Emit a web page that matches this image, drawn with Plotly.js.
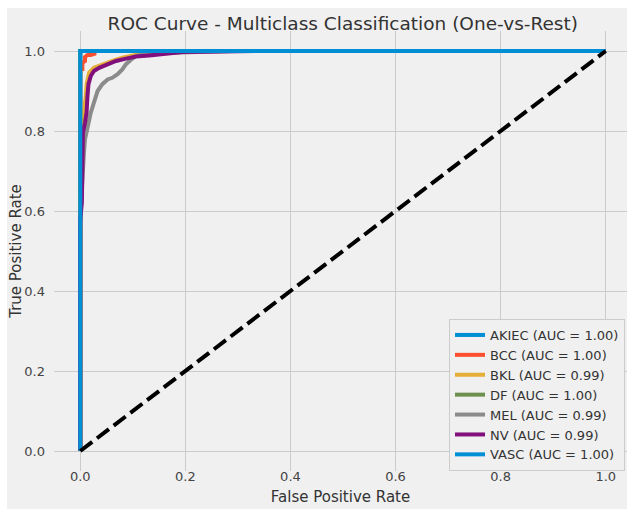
<!DOCTYPE html>
<html><head><meta charset="utf-8">
<script src="https://cdn.plot.ly/plotly-3.0.1.min.js"></script>
<style>
html,body{margin:0;padding:0;background:#ffffff;width:627px;height:509px;overflow:hidden}
#chart{position:absolute;left:7px;top:8px;width:620px;height:501px;background:#f0f0f0}
</style>
</head><body><div id="chart"></div>
<script>
// ---- Data ----
const classNames = ["AKIEC", "BCC", "BKL", "DF", "MEL", "NV", "VASC"];
const aucValues = [1.00, 1.00, 0.99, 1.00, 0.99, 0.99, 1.00];

const fprAKIEC = [0, 0, 1];
const tprAKIEC = [0, 1, 1];

const fprBCC = [0, 0, 0.004, 0.004, 0.009, 0.009, 0.014, 0.02, 0.027, 0.027, 1];
const tprBCC = [0, 0.955, 0.955, 0.97, 0.975, 0.985, 0.99, 0.99, 0.993, 1, 1];

const fprBKL = [0, 0, 0.003, 0.007, 0.0105, 0.0124, 0.017, 0.026, 0.042, 0.061, 0.08, 0.099, 0.118, 0.137, 0.16, 1];
const tprBKL = [0, 0.62, 0.80, 0.8375, 0.8875, 0.92, 0.946, 0.958, 0.967, 0.975, 0.983, 0.989, 0.994, 0.996, 1, 1];

const fprDF = [0, 0, 1];
const tprDF = [0, 1, 1];

const fprMEL = [0, 0, 0.002, 0.005, 0.007, 0.009, 0.0137, 0.02, 0.026, 0.033, 0.042, 0.052, 0.061, 0.071, 0.08, 0.087, 0.096, 0.106, 0.125, 0.20, 0.29, 1];
const tprMEL = [0, 0.55, 0.63, 0.737, 0.746, 0.779, 0.8125, 0.846, 0.871, 0.90, 0.917, 0.929, 0.933, 0.942, 0.954, 0.967, 0.9775, 0.9875, 0.994, 0.997, 1, 1];

const fprNV = [0, 0, 0.003, 0.004, 0.005, 0.009, 0.012, 0.0137, 0.0156, 0.02, 0.026, 0.036, 0.052, 0.068, 0.087, 0.106, 0.131, 0.163, 0.195, 0.34, 1];
const tprNV = [0, 0.58, 0.62, 0.7625, 0.796, 0.821, 0.846, 0.8875, 0.917, 0.9375, 0.95, 0.958, 0.967, 0.975, 0.981, 0.986, 0.989, 0.994, 0.9975, 1, 1];

const fprVASC = [0, 0, 1];
const tprVASC = [0, 1, 1];

const chanceX = [0, 1];
const chanceY = [0, 1];

const tickVals = [0, 0.2, 0.4, 0.6, 0.8, 1.0];
const tickText = ["0.0", "0.2", "0.4", "0.6", "0.8", "1.0"];

// ---- Styles ----
const colors = ["#008fd5", "#fc4f30", "#e5ae38", "#6d904f", "#8b8b8b", "#810f7c", "#008fd5"];
const fprs = [fprAKIEC, fprBCC, fprBKL, fprDF, fprMEL, fprNV, fprVASC];
const tprs = [tprAKIEC, tprBCC, tprBKL, tprDF, tprMEL, tprNV, tprVASC];

const traces = classNames.map((name, i) => ({
  x: fprs[i], y: tprs[i], type: "scatter", mode: "lines",
  name: name + " (AUC = " + aucValues[i].toFixed(2) + ")",
  line: {color: colors[i], width: 4},
  hoverinfo: "skip"
}));
traces.push({
  x: chanceX, y: chanceY, type: "scatter", mode: "lines", showlegend: false,
  line: {color: "#000000", width: 4, dash: "15px,6px"}, hoverinfo: "skip"
});

const font = "DejaVu Sans, sans-serif";
const layout = {
  width: 620, height: 501,
  margin: {l: 47, r: 0, t: 23, b: 38, pad: 0},
  paper_bgcolor: "#f0f0f0", plot_bgcolor: "#f0f0f0",
  font: {family: font, color: "#333333"},
  title: {text: "ROC Curve - Multiclass Classification (One-vs-Rest)",
          font: {family: font, size: 18.5, color: "#333333"},
          x: 0.504, xref: "paper", xanchor: "center",
          y: 0.970, yref: "container", yanchor: "middle"},
  xaxis: {range: [-0.05, 1.0405], tickvals: tickVals, ticktext: tickText,
          showgrid: true, gridcolor: "#cbcbcb", gridwidth: 1, zeroline: false, showline: false,
          ticks: "", ticklabelstandoff: -4,
          tickfont: {family: font, size: 13, color: "#444444"},
          title: {text: "False Positive Rate", font: {family: font, size: 15, color: "#333333"}, standoff: 8}},
  yaxis: {range: [-0.05, 1.05], tickvals: tickVals, ticktext: tickText,
          showgrid: true, gridcolor: "#cbcbcb", gridwidth: 1, zeroline: false, showline: false,
          ticks: "", ticklabelstandoff: 8,
          tickfont: {family: font, size: 13, color: "#444444"},
          title: {text: "True Positive Rate", font: {family: font, size: 15, color: "#333333"}, standoff: 6}},
  legend: {x: 0.9965, y: 0.0, xanchor: "right", yanchor: "bottom",
           bgcolor: "#f0f0f0", bordercolor: "#cccccc", borderwidth: 1,
           font: {family: font, size: 13, color: "#333333"},
           itemwidth: 30, tracegroupgap: 0},
  showlegend: true
};

Plotly.newPlot("chart", traces, layout, {displayModeBar: false, staticPlot: true});
</script>
</body></html>
